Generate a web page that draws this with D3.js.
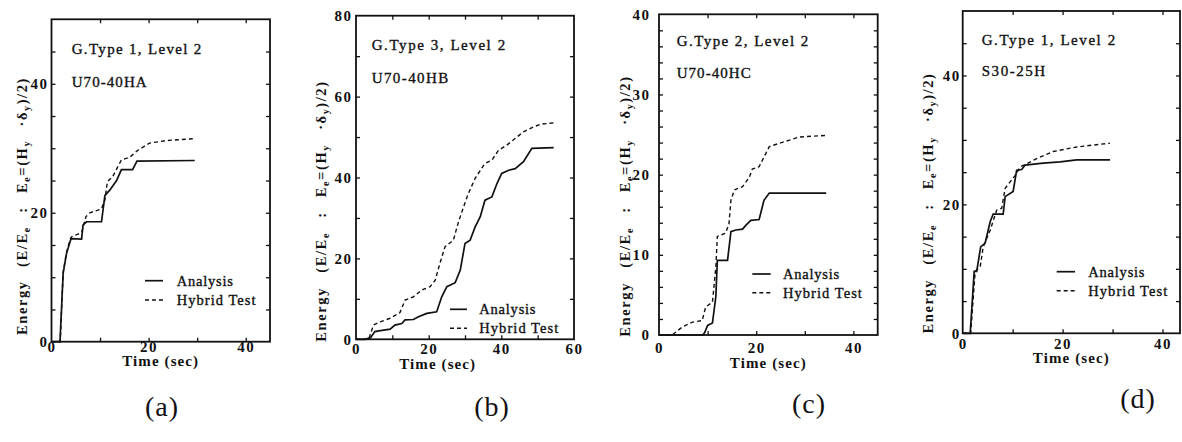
<!DOCTYPE html>
<html><head><meta charset="utf-8">
<script src="https://cdn.jsdelivr.net/npm/d3@7"></script>
<style>body{margin:0;background:#fff} svg{display:block}</style>
</head><body>
<svg id="chart" width="1182" height="442"></svg>
<script>
// ---------------- data ----------------
const captions = ["(a)", "(b)", "(c)", "(d)"];
const titles = ["G.Type 1, Level 2", "G.Type 3, Level 2", "G.Type 2, Level 2", "G.Type 1, Level 2"];
const specimens = ["U70-40HA", "U70-40HB", "U70-40HC", "S30-25H"];
const legendLabels = ["Analysis", "Hybrid Test"];
const xLabel = "Time (sec)";
const xMax = [45, 60, 45, 43.5];
const yMax = [50, 80, 40, 50];
const xTickLabels = [[0, 20, 40], [0, 20, 40, 60], [0, 20, 40], [0, 20, 40]];
const yTickLabels = [[0, 20, 40], [0, 20, 40, 60, 80], [0, 10, 20, 30, 40], [0, 20, 40]];
const xMinorStep = [10, 10, 10, 10];
const yMinorStep = [5, 10, 2, 5];

// [time (sec), energy]
const analysisA = [[0,0],[1.75,0],[2.4,10.6],[3.1,13.7],[3.9,15.7],[4.1,16],[6.2,15.9],[6.5,18.1],[7.2,18.6],[10.3,18.6],[11,22.7],[12,23.5],[13.4,25],[14.4,26.7],[16.7,26.7],[17.6,28],[29.5,28.1]];
const hybridA = [[0,0],[1.8,0],[2.4,10.8],[3.1,13.9],[3.9,16],[4.2,16.3],[5.2,16.6],[6.2,16.9],[7.1,19.4],[7.9,20],[10.3,20.6],[11,22],[11.5,24.8],[12.6,25.6],[14.4,28.2],[16.1,28.6],[17.8,29.7],[20.2,30.8],[23.7,31.2],[29.5,31.5]];
const analysisB = [[0,0],[2.5,0],[4,0.4],[5.2,1.9],[6.3,2.1],[9.4,2.5],[10.7,3.5],[12.6,3.9],[13.5,4.8],[15.8,4.9],[17.2,5.6],[19.5,6.4],[22.2,6.8],[23.6,10.5],[25,13],[27.3,14],[28.7,17.1],[30,23.7],[31.4,24.5],[32.8,27.8],[34.2,30.3],[35.5,34.4],[37.4,35.2],[38.8,38.5],[40.1,41],[42,41.8],[43.8,42.2],[46.1,43.9],[48.4,47.2],[54.4,47.4]];
const hybridB = [[0,0],[3.5,0],[4.8,3.5],[6.6,4.3],[9.4,5.2],[12.1,6.6],[13.5,9.7],[15.8,10.5],[18.1,12.2],[20.4,13],[21.8,14.6],[23.1,18.8],[24.5,22.9],[26.8,24.5],[28.2,29],[29.6,32.7],[30.9,36],[32.8,39.8],[35.5,43.5],[37.4,44.3],[39.2,46.7],[41.5,48],[44.3,50],[46.1,51.3],[48.8,52.5],[51,53.2],[54.4,53.5]];
const analysisC = [[0,0],[9,0],[9.4,0.3],[10,1.2],[11,1.5],[11.7,4.8],[12,9.3],[14.1,9.3],[14.8,12.9],[15.8,13.1],[17.2,13.2],[17.9,13.7],[18.9,14.3],[20.6,14.4],[21.6,16.8],[22.7,17.7],[34.4,17.7]];
const hybridC = [[0,0],[2.7,0],[4.8,1.0],[6.9,1.6],[8.9,1.8],[9.6,3.5],[11,4.1],[11.7,8.5],[12,12.3],[13.7,12.7],[14.4,13.9],[14.8,16.8],[15.5,18.1],[17.2,18.5],[18.6,19.7],[19.2,20.7],[20.6,21],[22.7,23.5],[24.7,23.9],[28.9,24.7],[34.4,24.9]];
const analysisD = [[0,0],[1.5,0],[2.3,9.6],[2.8,9.6],[3.6,13.4],[4.5,14],[5.5,17.3],[6.1,18.5],[8.1,18.5],[8.5,21.2],[10.1,22],[10.8,25.3],[11.8,25.4],[12.5,26.1],[16.1,26.4],[19.5,26.6],[22.8,26.9],[29.5,26.9]];
const hybridD = [[0,0],[1.6,0],[2.5,9.6],[3.5,10.3],[4.1,13.4],[5.5,16],[6.8,19.1],[7.8,19.4],[8.5,22.5],[9.5,23.5],[10.5,24.5],[11.5,25.8],[12.8,26.3],[14.8,27.1],[18.1,28.2],[22.8,28.9],[29.5,29.5]];
const analysisSeries = [analysisA, analysisB, analysisC, analysisD];
const hybridSeries = [hybridA, hybridB, hybridC, hybridD];

// ---------------- layout ----------------
const boxes = [
  {l: 51.5, t: 19.3, r: 270, b: 341.7},
  {l: 356, t: 15.7, r: 574, b: 339.3},
  {l: 659, t: 14.3, r: 877.7, b: 335},
  {l: 962.7, t: 11, r: 1180, b: 333.3}
];
const yPad = [3, 3.5, 8.5, 2];
const xPad = [0, 4, 7.5, 5];
const timeDy = [24.5, 30, 33, 29.5];
const yLab = [{x: 27, cy: 206, len: 258}, {x: 326, cy: 211, len: 267}, {x: 630, cy: 206, len: 263}, {x: 933, cy: 203, len: 261}];
const titlePos = [{x: 71.7, y1: 54, y2: 87, w1: 131, w2: 76}, {x: 371.7, y1: 50, y2: 83, w1: 135, w2: 78},
                  {x: 676.7, y1: 46, y2: 78, w1: 133, w2: 75}, {x: 981.7, y1: 45, y2: 76, w1: 135, w2: 65}];
const legPos = [{x1: 145, x2: 163, ya: 280.7, yh: 300, tx: 176.7}, {x1: 450, x2: 467, ya: 309.3, yh: 328.3, tx: 479.3},
                {x1: 752.3, x2: 770.7, ya: 274, yh: 292.7, tx: 783}, {x1: 1056.7, x2: 1075, ya: 271.7, yh: 290.7, tx: 1088.3}];
const capPos = [{x: 162, y: 416}, {x: 492, y: 416}, {x: 809, y: 413}, {x: 1138, y: 408}];

const FONT = "'Liberation Serif','Times New Roman',serif";
const svg = d3.select("#chart");

function fit(sel, target) {
  const n = sel.text().length;
  const w = sel.node().getComputedTextLength();
  sel.attr("letter-spacing", ((target - w) / n).toFixed(2));
}

function range(max, step) { return d3.range(0, max + 1e-6, step); }

boxes.forEach((bx, i) => {
  const x = d3.scaleLinear().domain([0, xMax[i]]).range([bx.l, bx.r]);
  const y = d3.scaleLinear().domain([0, yMax[i]]).range([bx.b, bx.t]);
  const g = svg.append("g");

  // ticks (inward) on all four sides
  const xt = range(xMax[i], xMinorStep[i]).filter(v => v > 0 && v < xMax[i] - 0.5);
  const yt = range(yMax[i], yMinorStep[i]).filter(v => v > 0 && v < yMax[i] - 0.5);
  const tickStyle = s => { s.select(".domain").remove(); s.selectAll("line").attr("stroke", "#111").attr("stroke-width", 1.3); };
  g.append("g").attr("transform", `translate(0,${bx.b})`).call(d3.axisBottom(x).tickValues(xt).tickSize(-4).tickFormat("")).call(tickStyle);
  g.append("g").attr("transform", `translate(0,${bx.t})`).call(d3.axisTop(x).tickValues(xt).tickSize(-4).tickFormat("")).call(tickStyle);
  g.append("g").attr("transform", `translate(${bx.l},0)`).call(d3.axisLeft(y).tickValues(yt).tickSize(-4).tickFormat("")).call(tickStyle);
  g.append("g").attr("transform", `translate(${bx.r},0)`).call(d3.axisRight(y).tickValues(yt).tickSize(-4).tickFormat("")).call(tickStyle);

  // tick labels
  const labStyle = s => { s.select(".domain").remove(); s.selectAll("line").remove();
    s.selectAll("text").attr("font-family", FONT).attr("font-size", 15).attr("font-weight", "bold")
      .attr("letter-spacing", 1.5).attr("fill", "#111"); };
  g.append("g").attr("transform", `translate(0,${bx.b})`).call(d3.axisBottom(x).tickValues(xTickLabels[i]).tickSize(0).tickPadding(xPad[i]).tickFormat(d3.format("d"))).call(labStyle);
  g.append("g").attr("transform", `translate(${bx.l},0)`).call(d3.axisLeft(y).tickValues(yTickLabels[i]).tickSize(0).tickPadding(yPad[i]).tickFormat(d3.format("d"))).call(labStyle);

  // curves
  const line = d3.line().x(d => x(d[0])).y(d => y(d[1]));
  g.append("path").datum(hybridSeries[i]).attr("d", line).attr("fill", "none").attr("stroke", "#111").attr("stroke-width", 1.4).attr("stroke-dasharray", "4,3");
  g.append("path").datum(analysisSeries[i]).attr("d", line).attr("fill", "none").attr("stroke", "#111").attr("stroke-width", 1.7);

  // frame
  g.append("rect").attr("x", bx.l).attr("y", bx.t).attr("width", bx.r - bx.l).attr("height", bx.b - bx.t)
    .attr("fill", "none").attr("stroke", "#111").attr("stroke-width", 1.8);

  // annotations
  const tp = titlePos[i];
  const t1 = g.append("text").attr("x", tp.x).attr("y", tp.y1).attr("font-family", FONT).attr("font-size", 15)
    .attr("fill", "#111").attr("stroke", "#111").attr("stroke-width", 0.35).text(titles[i]);
  fit(t1, tp.w1);
  const t2 = g.append("text").attr("x", tp.x).attr("y", tp.y2).attr("font-family", FONT).attr("font-size", 15)
    .attr("fill", "#111").attr("stroke", "#111").attr("stroke-width", 0.35).text(specimens[i]);
  fit(t2, tp.w2);

  // legend
  const lp = legPos[i];
  g.append("line").attr("x1", lp.x1).attr("x2", lp.x2).attr("y1", lp.ya).attr("y2", lp.ya).attr("stroke", "#111").attr("stroke-width", 1.7);
  g.append("line").attr("x1", lp.x1).attr("x2", lp.x2).attr("y1", lp.yh).attr("y2", lp.yh).attr("stroke", "#111").attr("stroke-width", 1.4).attr("stroke-dasharray", "4,3");
  [[legendLabels[0], lp.ya, 57], [legendLabels[1], lp.yh, 80]].forEach(([txt, yy, w]) => {
    const t = g.append("text").attr("x", lp.tx).attr("y", yy + 5).attr("font-family", FONT).attr("font-size", 14.5)
      .attr("fill", "#111").attr("stroke", "#111").attr("stroke-width", 0.35).text(txt);
    fit(t, w);
  });

  // x label
  const xl = g.append("text").attr("x", (bx.l + Math.min(bx.r, x(45))) / 2).attr("y", bx.b + timeDy[i]).attr("text-anchor", "middle")
    .attr("font-family", FONT).attr("font-size", 15).attr("font-weight", "bold").attr("fill", "#111").text(xLabel);
  fit(xl, 77);

  // y label (rotated)
  const yl = yLab[i];
  const ytx = g.append("text").attr("transform", `translate(${yl.x},${yl.cy}) rotate(-90)`).attr("text-anchor", "middle")
    .attr("font-family", FONT).attr("font-size", 14.5).attr("font-weight", "bold").attr("fill", "#111")
    .attr("letter-spacing", 1.6).attr("word-spacing", 0);
  const parts = [["Energy (E/E", 0], ["e", 1], [" : E", 0], ["e", 1], ["=(H", 0], ["y", 1], [" \u00b7\u03b4", 0], ["y", 1], [")/2)", 0]];
  parts.forEach(([s, sub]) => {
    const ts = ytx.append("tspan").text(s);
    if (sub) ts.attr("font-size", 10).attr("baseline-shift", "-25%");
  });
  const wl = ytx.node().getBBox().width;
  ytx.attr("word-spacing", Math.min(9, Math.max(2, (yl.len - wl) / 4)).toFixed(2));

  // caption
  svg.append("text").attr("x", capPos[i].x).attr("y", capPos[i].y).attr("text-anchor", "middle")
    .attr("font-family", FONT).attr("font-size", 28).attr("letter-spacing", 1).attr("fill", "#111").text(captions[i]);
});
</script>
</body></html>
